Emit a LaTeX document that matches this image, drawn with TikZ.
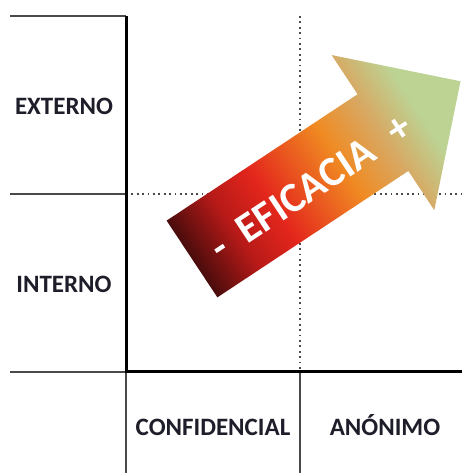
\documentclass[tikz,border=0pt]{standalone}
\usepackage{tikz}
\usetikzlibrary{calc}
\usepackage{fontspec}
\setmainfont{Carlito}
\definecolor{ejes}{HTML}{4A4A4A}
\definecolor{letra}{HTML}{1E1E2A}
\definecolor{efA}{HTML}{4A0C0C}
\definecolor{efB}{HTML}{B81A18}
\definecolor{efC}{HTML}{E3261C}
\definecolor{efD}{HTML}{F08A22}
\definecolor{efE}{HTML}{D8A862}
\definecolor{efF}{HTML}{BCD394}
\pgfdeclarehorizontalshading{eficacia}{100bp}{color(0bp)=(efA); color(25bp)=(efA); color(33bp)=(efB); color(40bp)=(efC); color(52.5bp)=(efD); color(60bp)=(efE); color(67bp)=(efF); color(100bp)=(efF)}

\begin{document}
\begin{tikzpicture}
		[x=1pt,y=1pt]
			\tikzstyle{every node}=[font=\fontsize{25}{30}\selectfont\bfseries,
		text=letra, inner sep=0pt]
			\tikzstyle{rejilla}=[ejes, line width=1.6pt]
			\tikzstyle{eje}=[black, line width=3pt]
			\tikzstyle{punteado}=[ejes, line width=1.5pt, dash pattern=on 1.8pt off 3.6pt]
			\tikzstyle{flecha}=[white, font=\fontsize{42}{48}\selectfont\bfseries]
		\useasboundingbox (0,0) rectangle (462,473);
		%-----rejilla
		 \coordinate (T0) at (10,457);
		 \coordinate (T1) at (126,457);
		 \coordinate (T2) at (300,457);
		 \coordinate (M0) at (10,279);
		 \coordinate (M1) at (126,279);
		 \coordinate (M3) at (462,279);
		 \coordinate (B0) at (10,101);
		 \coordinate (B1) at (126,101);
		 \coordinate (B2) at (300,101);
		 \coordinate (B3) at (462,101);
		 \coordinate (D1) at (126,0);
		 \coordinate (D2) at (300,0);

		  \draw[punteado] (M1) -- (M3);
		  \draw[punteado] (T2) -- (B2);
		  \foreach \from/\to in {T0/T1, M0/M1, B0/B1, B1/D1, B2/D2}
		  \draw[rejilla] (\from) -- (\to);
		  \draw[eje] (T1) -- (B1) -- (B3);

		%-----etiquetas
		 \node[anchor=base] (EXT) at (64,358) {EXTERNO};
		 \node[anchor=base] (INT) at (64,180) {INTERNO};
		 \node[anchor=base] (CON) at (213,37) {CONFIDENCIAL};
		 \node[anchor=base] (ANO) at (385,37) {ANÓNIMO};

		%-----flecha
		\begin{scope}[transform canvas={shift={(192,214)}, rotate=33.5}]
		  \shade[shading=eficacia] (0,-46) -- (229,-46) -- (229,-93) -- (322,0)
		    -- (229,93) -- (229,46) -- (0,46) -- cycle;
		  \node[flecha, anchor=base] (efi) at (136.5,-19)
		    {\makebox[0pt]{-}\hspace{104pt}\makebox[0pt]{EFICACIA}\hspace{111pt}\makebox[0pt]{+}};
		\end{scope}
		\end{tikzpicture}
\end{document}
